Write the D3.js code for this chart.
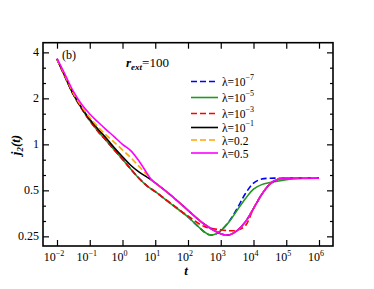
<!DOCTYPE html>
<html>
<head>
<meta charset="utf-8">
<script src="https://cdn.jsdelivr.net/npm/d3@7"></script>
<style>
  body { margin: 0; background: #fff; }
  text { font-family: "Liberation Serif", "Times New Roman", serif; fill: #000; }
</style>
</head>
<body>
<div id="chart"></div>
<script>
// tick values / labels
const xTicks = [1e-2, 1e-1, 1, 1e1, 1e2, 1e3, 1e4, 1e5, 1e6];
const xTickExp = ["-2", "-1", "0", "1", "2", "3", "4", "5", "6"];
const yTicks = [0.25, 0.5, 1, 2, 4];
const yTickLabels = ["0.25", "0.5", "1", "2", "4"];

// series, [t, j2(t)]
const lam1e7 = [[0.01,3.62],[0.0178,2.75],[0.0316,2.12],[0.0562,1.72],[0.1,1.43],[0.178,1.22],[0.316,1.06],[0.562,0.92],[1,0.8],[1.78,0.69],[3.16,0.6],[5.62,0.535],[10,0.49],[31.6,0.405],[100,0.335],[178,0.298],[316,0.267],[450,0.256],[700,0.259],[1000,0.272],[1780,0.312],[3160,0.38],[5620,0.475],[1e4,0.557],[1.78e4,0.593],[3.16e4,0.6],[1e5,0.6],[1e6,0.6]];
const lam1e5 = [[0.01,3.62],[0.0178,2.75],[0.0316,2.12],[0.0562,1.72],[0.1,1.43],[0.178,1.22],[0.316,1.06],[0.562,0.92],[1,0.8],[1.78,0.69],[3.16,0.6],[5.62,0.535],[10,0.49],[31.6,0.405],[100,0.335],[178,0.298],[316,0.267],[450,0.256],[700,0.259],[1000,0.272],[1780,0.31],[3160,0.37],[5620,0.44],[1e4,0.51],[1.78e4,0.545],[3.16e4,0.562],[1e5,0.587],[3.16e5,0.598],[1e6,0.6]];
const lam1e3 = [[0.01,3.62],[0.0178,2.75],[0.0316,2.12],[0.0562,1.72],[0.1,1.43],[0.178,1.22],[0.316,1.06],[0.562,0.92],[1,0.8],[1.78,0.69],[3.16,0.6],[5.62,0.535],[10,0.49],[31.6,0.408],[100,0.34],[316,0.29],[1000,0.276],[2000,0.272],[3160,0.274],[5620,0.293],[1e4,0.38],[1.78e4,0.47],[3.16e4,0.55],[5.62e4,0.59],[1e5,0.6],[1e6,0.6]];
const lam1e1 = [[0.01,3.6],[0.0178,2.78],[0.0316,2.13],[0.0562,1.74],[0.1,1.46],[0.178,1.26],[0.316,1.1],[0.562,0.95],[1,0.83],[1.78,0.73],[3.16,0.66],[5.62,0.61],[7.5,0.585],[10,0.56],[31.6,0.46],[100,0.37],[316,0.3],[1000,0.26],[1400,0.255],[2000,0.257],[3160,0.272],[5620,0.31],[1e4,0.38],[1.78e4,0.47],[3.16e4,0.55],[5.62e4,0.59],[1e5,0.6],[1e6,0.6]];
const lam02 = [[0.01,3.6],[0.0178,2.8],[0.0316,2.16],[0.0562,1.77],[0.1,1.5],[0.178,1.3],[0.316,1.15],[0.562,1.03],[1,0.92],[1.78,0.82],[3.16,0.72],[5.62,0.63],[7.5,0.59],[10,0.56],[31.6,0.46],[100,0.37],[316,0.3],[1000,0.26],[1400,0.255],[2000,0.257],[3160,0.272],[5620,0.31],[1e4,0.38],[1.78e4,0.47],[3.16e4,0.55],[5.62e4,0.59],[1e5,0.6],[1e6,0.6]];
const lam05 = [[0.01,3.65],[0.0178,2.85],[0.0316,2.22],[0.0562,1.83],[0.1,1.58],[0.178,1.4],[0.316,1.25],[0.562,1.12],[1,1.0],[1.78,0.91],[3.16,0.78],[5.62,0.645],[7.5,0.59],[10,0.56],[31.6,0.46],[100,0.37],[316,0.3],[1000,0.26],[1400,0.255],[2000,0.257],[3160,0.272],[5620,0.31],[1e4,0.38],[1.78e4,0.47],[3.16e4,0.55],[5.62e4,0.59],[1e5,0.6],[1e6,0.6]];

const series = [
  { data: lam1e7, color: "#0000ff", dash: "6,3", exp: "\u22127", num: null },
  { data: lam1e5, color: "#1f9a1f", dash: null,  exp: "\u22125", num: null },
  { data: lam1e3, color: "#ff0000", dash: "6,3", exp: "\u22123", num: null },
  { data: lam1e1, color: "#000000", dash: null,  exp: "\u22121", num: null },
  { data: lam02,  color: "#ffa500", dash: "6,3", exp: null, num: "0.2" },
  { data: lam05,  color: "#ff00ff", dash: null,  exp: null, num: "0.5" }
];

const width = 374, height = 289;
const mLeft = 43, mRight = 333, mTop = 42.7, mBottom = 246;

const svg = d3.select("#chart").append("svg")
  .attr("width", width)
  .attr("height", height);

svg.append("rect").attr("width", width).attr("height", height).attr("fill", "#fff");

const x = d3.scaleLog().domain([Math.pow(10, -2.4275), Math.pow(10, 6.4275)]).range([mLeft, mRight]);
const y = d3.scaleLog().base(2).domain([Math.pow(2, -2.21), Math.pow(2, 2.21)]).range([mBottom, mTop]);

// two minor ticks between the majors
const yMinor = [];
yTicks.forEach(v => {
  [1/3, 2/3].forEach(f => {
    const m = v * Math.pow(2, f);
    if (m < y.domain()[1]) yMinor.push(m);
  });
});
[1/3, 2/3].forEach(f => {
  const m = 0.25 / Math.pow(2, f);
  if (m > y.domain()[0]) yMinor.push(m);
});

// axes with inward ticks
const axisG = svg.append("g");
axisG.append("g").attr("transform", `translate(0,${mBottom})`)
  .call(d3.axisBottom(x).tickValues(xTicks).tickSize(-6).tickFormat(""));
axisG.append("g").attr("transform", `translate(0,${mTop})`)
  .call(d3.axisTop(x).tickValues(xTicks).tickSize(-6).tickFormat(""));
axisG.append("g").attr("transform", `translate(${mLeft},0)`)
  .call(d3.axisLeft(y).tickValues(yTicks).tickSize(-6).tickFormat(""));
axisG.append("g").attr("transform", `translate(${mRight},0)`)
  .call(d3.axisRight(y).tickValues(yTicks).tickSize(-6).tickFormat(""));
axisG.append("g").attr("transform", `translate(${mLeft},0)`)
  .call(d3.axisLeft(y).tickValues(yMinor).tickSize(-3).tickFormat(""));
axisG.append("g").attr("transform", `translate(${mRight},0)`)
  .call(d3.axisRight(y).tickValues(yMinor).tickSize(-3).tickFormat(""));
axisG.selectAll(".domain").remove();
axisG.selectAll("line").attr("stroke", "#000").attr("stroke-width", 1.2);

svg.append("rect")
  .attr("x", mLeft).attr("y", mTop)
  .attr("width", mRight - mLeft).attr("height", mBottom - mTop)
  .attr("fill", "none").attr("stroke", "#000").attr("stroke-width", 1.6);

// tick labels
const xl = svg.append("g").selectAll("text").data(xTicks).enter().append("text")
  .attr("x", d => x(d) - 3)
  .attr("y", 261)
  .attr("text-anchor", "middle")
  .style("font-size", "12px");
xl.append("tspan").text("10");
xl.append("tspan").attr("dy", -5).style("font-size", "8px").text((d, i) => xTickExp[i].replace("-", "\u2212"));

svg.append("g").selectAll("text").data(yTicks).enter().append("text")
  .attr("x", mLeft - 4)
  .attr("y", d => y(d) + 4)
  .attr("text-anchor", "end")
  .style("font-size", "12px")
  .text((d, i) => yTickLabels[i]);

// axis titles
svg.append("text").attr("x", 186).attr("y", 275).attr("text-anchor", "middle")
  .style("font-size", "13px").style("font-weight", "bold").style("font-style", "italic").text("t");

const yt = svg.append("text").attr("transform", "translate(20,145) rotate(-90)")
  .attr("text-anchor", "middle")
  .style("font-size", "13px").style("font-weight", "bold").style("font-style", "italic");
yt.append("tspan").text("j");
yt.append("tspan").attr("dy", 3).style("font-size", "9px").text("2");
yt.append("tspan").attr("dy", -3).text("(t)");

svg.append("text").attr("x", 62).attr("y", 59).style("font-size", "12px").text("(b)");

const rt = svg.append("text").attr("x", 126).attr("y", 67).style("font-size", "13px");
rt.append("tspan").style("font-weight", "bold").style("font-style", "italic").text("r");
rt.append("tspan").attr("dy", 3).style("font-size", "9px").style("font-weight", "bold").style("font-style", "italic").text("ext");
rt.append("tspan").attr("dy", -3).text("=100");

// curves
const line = d3.line()
  .x(d => x(d[0]))
  .y(d => y(d[1]))
  .curve(d3.curveCatmullRom.alpha(0.5));

svg.append("clipPath").attr("id", "clip").append("rect")
  .attr("x", mLeft).attr("y", mTop).attr("width", mRight - mLeft).attr("height", mBottom - mTop);

svg.append("g").attr("clip-path", "url(#clip)")
  .selectAll("path").data(series).enter().append("path")
  .attr("d", d => line(d.data))
  .attr("fill", "none")
  .attr("stroke", d => d.color)
  .attr("stroke-width", 1.6)
  .attr("stroke-dasharray", d => d.dash);

// legend
const legendY = [81.5, 97.5, 113.5, 127.5, 140, 153];
const lg = svg.append("g").selectAll("g").data(series).enter().append("g")
  .attr("transform", (d, i) => `translate(191,${legendY[i]})`);
lg.append("line").attr("x1", 0).attr("x2", 27).attr("y1", 0).attr("y2", 0)
  .attr("stroke", d => d.color).attr("stroke-width", 1.6)
  .attr("stroke-dasharray", d => d.dash);
const lt = lg.append("text").attr("x", 31).attr("y", 4.5).style("font-size", "11.5px");
lt.append("tspan").text(d => d.num ? "\u03bb=" + d.num : "\u03bb=10");
lt.filter(d => d.exp).append("tspan").attr("dy", -6).style("font-size", "8px").text(d => d.exp);
</script>
</body>
</html>
